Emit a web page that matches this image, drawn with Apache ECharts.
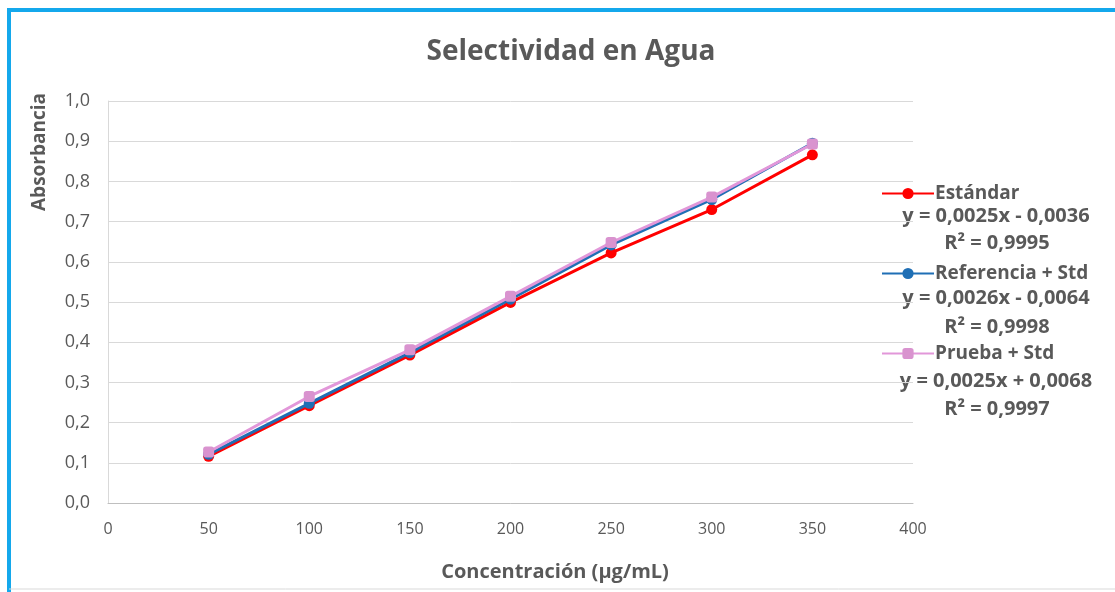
<!DOCTYPE html>
<html>
<head>
<meta charset="utf-8">
<script src="https://cdn.jsdelivr.net/npm/echarts@6/dist/echarts.min.js"></script>
<style>
html,body{margin:0;padding:0;background:#fff;}
#chart{width:1115px;height:592px;}
</style>
</head>
<body>
<div id="chart"></div>
<script>
const concentrations = [50, 100, 150, 200, 250, 300, 350];
const estandar = [0.116, 0.242, 0.368, 0.499, 0.622, 0.730, 0.866];
const referencia = [0.121, 0.248, 0.374, 0.507, 0.642, 0.755, 0.895];
const prueba = [0.127, 0.265, 0.381, 0.514, 0.648, 0.761, 0.893];
const seriesNames = ['Estándar', 'Referencia + Std', 'Prueba + Std'];
const equations = ['y = 0,0025x - 0,0036', 'y = 0,0026x - 0,0064', 'y = 0,0025x + 0,0068'];
const r2Labels = ['R² = 0,9995', 'R² = 0,9998', 'R² = 0,9997'];

const FONT = '"Open Sans", sans-serif';
const TXT = '#595959';
const pair = arr => concentrations.map((c, i) => [c, arr[i]]);

const chart = echarts.init(document.getElementById('chart'), null, {renderer: 'canvas'});

const eqY = [[216, 243], [298, 327], [381, 409]];
const graphics = [
  {type: 'polyline', shape: {points: [[9, 592], [9, 10], [1120, 10]]}, style: {stroke: '#14a8ec', lineWidth: 4, fill: null}, silent: true},
  {type: 'line', shape: {x1: 9, y1: 589, x2: 1115, y2: 589}, style: {stroke: '#d9d9d9', lineWidth: 1}, silent: true},
  {type: 'text', x: 40, y: 152, rotation: Math.PI / 2, style: {text: 'Absorbancia', font: 'bold 19px ' + FONT, fill: TXT, textAlign: 'center', textVerticalAlign: 'middle'}},
  {type: 'text', x: 555, y: 572, style: {text: 'Concentración (µg/mL)', font: 'bold 20px ' + FONT, fill: TXT, textAlign: 'center', textVerticalAlign: 'middle'}}
];
equations.forEach((eq, i) => {
  graphics.push({type: 'text', x: 996, y: eqY[i][0], style: {text: eq, font: 'bold 20px ' + FONT, fill: TXT, textAlign: 'center', textVerticalAlign: 'middle'}});
  graphics.push({type: 'text', x: 997, y: eqY[i][1], style: {text: r2Labels[i], font: 'bold 20px ' + FONT, fill: TXT, textAlign: 'center', textVerticalAlign: 'middle'}});
});

const option = {
  animation: false,
  backgroundColor: '#fff',
  title: {
    text: 'Selectividad en Agua', left: 566, top: 33, textAlign: 'center',
    textStyle: {fontFamily: FONT, fontSize: 28, fontWeight: 'bold', color: TXT}
  },
  legend: {
    orient: 'vertical', left: 876, top: 179,
    itemWidth: 52, itemHeight: 14, itemGap: 61,
    data: seriesNames,
    textStyle: {fontFamily: FONT, fontSize: 19, fontWeight: 'bold', color: TXT, padding: [0, 0, 0, -4]}
  },
  grid: {left: 108, right: 202, top: 101, bottom: 89, containLabel: false},
  xAxis: {
    type: 'value', min: 0, max: 400, interval: 50,
    axisLine: {show: true, lineStyle: {color: '#bfbfbf'}},
    axisTick: {show: false},
    splitLine: {show: false},
    axisLabel: {fontFamily: FONT, fontSize: 16, color: TXT, margin: 18}
  },
  yAxis: {
    type: 'value', min: 0, max: 1, interval: 0.1,
    axisLine: {show: true, lineStyle: {color: '#d9d9d9'}},
    axisTick: {show: false},
    splitLine: {show: true, lineStyle: {color: '#d9d9d9', width: 1}},
    axisLabel: {fontFamily: FONT, fontSize: 18, color: TXT, margin: 18,
      formatter: v => v.toFixed(1).replace('.', ',')}
  },
  graphic: graphics,
  series: [
    {name: seriesNames[0], type: 'line', data: pair(estandar), symbol: 'circle', symbolSize: 11,
      lineStyle: {color: '#ff0000', width: 3}, itemStyle: {color: '#ff0000'}, z: 2},
    {name: seriesNames[1], type: 'line', data: pair(referencia), symbol: 'circle', symbolSize: 11,
      lineStyle: {color: '#1f6fb5', width: 3}, itemStyle: {color: '#1f6fb5'}, z: 3},
    {name: seriesNames[2], type: 'line', data: pair(prueba), symbol: 'roundRect', symbolSize: 11,
      lineStyle: {color: '#e297d9', width: 3}, itemStyle: {color: '#d993cf'}, z: 4}
  ]
};
chart.setOption(option);
</script>
</body>
</html>
